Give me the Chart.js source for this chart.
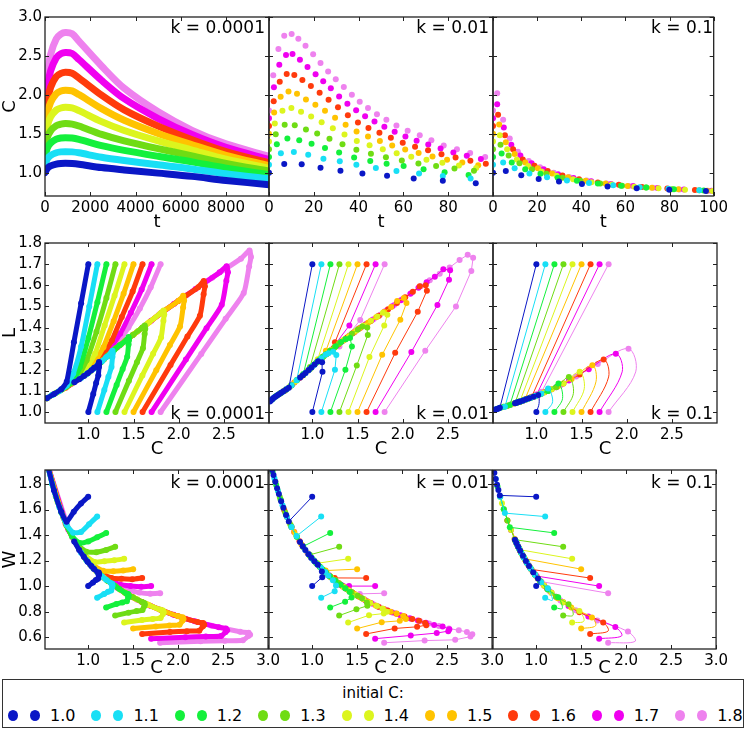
<!DOCTYPE html>
<html>
<head>
<meta charset="utf-8">
<script src="https://cdn.jsdelivr.net/npm/chart.js@4.4.0/dist/chart.umd.min.js"></script>
<style>
body { margin: 0; background: #fff; font-family: "DejaVu Sans", sans-serif; }
#fig { position: relative; width: 747px; height: 747px; overflow: hidden; background: #fff; }
#fig canvas { position: absolute; }
.klab { position: absolute; width: 220px; font-size: 17px; line-height: 20px; text-align: right; color: #000; white-space: nowrap; }
#legend { position: absolute; left: 2px; top: 679px; width: 740px; height: 47px; border: 1px solid #333; }
#legtitle { position: absolute; left: 0; width: 740px; top: 3px; text-align: center; font-size: 15px; line-height: 20px; }
.ldot { position: absolute; width: 10px; height: 11px; border-radius: 50%; }
.ltxt { position: absolute; font-size: 16px; line-height: 20px; }
</style>
</head>
<body>
<div id="fig">
  <div id="legend"><div id="legtitle">initial C:</div></div>
</div>
<script>
// one colour per initial C
var initC = [1.0, 1.1, 1.2, 1.3, 1.4, 1.5, 1.6, 1.7, 1.8];
var colors = ['#0a17c6', '#18dff5', '#14f03c', '#6fdc14', '#dcf51e', '#ffc300', '#ff3a0c', '#f000f0', '#ee82ee'];
var kLabels = ['k = 0.0001', 'k = 0.01', 'k = 0.1'];

// tick values
var tTicks_k4 = [0, 2000, 4000, 6000, 8000];
var tTicks_k2 = [0, 20, 40, 60, 80];
var tTicks_k1 = [0, 20, 40, 60, 80, 100];
var cTicksTop = [1.0, 1.5, 2.0, 2.5, 3.0];
var lTicks = [1.0, 1.1, 1.2, 1.3, 1.4, 1.5, 1.6, 1.7, 1.8];
var wTicks = [0.6, 0.8, 1.0, 1.2, 1.4, 1.6, 1.8];
var cTicksMid = [1.0, 1.5, 2.0, 2.5];
var cTicksBot = [1.0, 1.5, 2.0, 2.5, 3.0];

// ---- k = 0.0001, trajectories starting at L = 1.0 ----
var t_k4 = [0, 100, 250, 500, 700, 900, 1200, 1500, 2500, 3500, 5000, 6500, 8000, 9900];
var C_k4 = [
  [1.0, 1.054, 1.086, 1.11, 1.118, 1.12, 1.118, 1.109, 1.065, 1.035, 0.994, 0.952, 0.90, 0.845],
  [1.1, 1.177, 1.222, 1.256, 1.267, 1.27, 1.267, 1.255, 1.197, 1.155, 1.101, 1.048, 0.985, 0.92],
  [1.2, 1.313, 1.38, 1.43, 1.445, 1.45, 1.445, 1.427, 1.347, 1.286, 1.21, 1.139, 1.058, 0.975],
  [1.3, 1.449, 1.538, 1.604, 1.623, 1.63, 1.624, 1.599, 1.492, 1.409, 1.308, 1.216, 1.119, 1.02],
  [1.4, 1.598, 1.717, 1.805, 1.831, 1.84, 1.832, 1.797, 1.656, 1.542, 1.408, 1.29, 1.173, 1.055],
  [1.5, 1.752, 1.903, 2.015, 2.049, 2.06, 2.05, 2.003, 1.823, 1.674, 1.504, 1.359, 1.223, 1.09],
  [1.6, 1.91, 2.097, 2.235, 2.276, 2.29, 2.278, 2.217, 1.996, 1.807, 1.598, 1.424, 1.272, 1.127],
  [1.7, 2.08, 2.308, 2.477, 2.528, 2.545, 2.531, 2.454, 2.186, 1.95, 1.695, 1.489, 1.324, 1.17],
  [1.8, 2.25, 2.52, 2.72, 2.78, 2.80, 2.784, 2.689, 2.371, 2.084, 1.782, 1.544, 1.369, 1.21]
];
var L_k4 = [
  [1.0, 1.085, 1.137, 1.174, 1.213, 1.228, 1.237, 1.225, 1.209, 1.198, 1.183, 1.171, 1.155, 1.141],
  [1.0, 1.104, 1.167, 1.213, 1.261, 1.278, 1.29, 1.282, 1.259, 1.242, 1.222, 1.203, 1.181, 1.161],
  [1.0, 1.128, 1.204, 1.261, 1.32, 1.341, 1.355, 1.342, 1.316, 1.294, 1.264, 1.236, 1.206, 1.178],
  [1.0, 1.148, 1.236, 1.302, 1.369, 1.394, 1.41, 1.40, 1.364, 1.336, 1.303, 1.266, 1.229, 1.192],
  [1.0, 1.173, 1.276, 1.353, 1.432, 1.461, 1.48, 1.466, 1.419, 1.381, 1.336, 1.296, 1.249, 1.205],
  [1.0, 1.198, 1.317, 1.405, 1.495, 1.528, 1.55, 1.528, 1.474, 1.425, 1.368, 1.32, 1.269, 1.218],
  [1.0, 1.223, 1.357, 1.456, 1.558, 1.595, 1.62, 1.591, 1.526, 1.469, 1.399, 1.341, 1.289, 1.232],
  [1.0, 1.248, 1.397, 1.508, 1.621, 1.662, 1.69, 1.661, 1.582, 1.512, 1.432, 1.363, 1.308, 1.248],
  [1.0, 1.275, 1.441, 1.563, 1.689, 1.734, 1.765, 1.726, 1.636, 1.552, 1.461, 1.381, 1.323, 1.264]
];
var W_k4 = [
  [1.0, 1.029, 1.047, 1.058, 1.085, 1.096, 1.106, 1.105, 1.135, 1.157, 1.19, 1.23, 1.283, 1.35],
  [0.909, 0.938, 0.955, 0.966, 0.995, 1.006, 1.018, 1.022, 1.052, 1.075, 1.11, 1.148, 1.199, 1.262],
  [0.833, 0.859, 0.872, 0.882, 0.913, 0.925, 0.938, 0.94, 0.977, 1.006, 1.045, 1.085, 1.14, 1.208],
  [0.769, 0.792, 0.804, 0.812, 0.843, 0.855, 0.868, 0.876, 0.914, 0.948, 0.996, 1.041, 1.098, 1.169],
  [0.714, 0.734, 0.743, 0.75, 0.782, 0.794, 0.808, 0.816, 0.857, 0.896, 0.949, 1.005, 1.065, 1.142],
  [0.667, 0.684, 0.692, 0.697, 0.73, 0.742, 0.756, 0.763, 0.809, 0.851, 0.91, 0.971, 1.038, 1.117],
  [0.625, 0.64, 0.647, 0.651, 0.685, 0.697, 0.711, 0.718, 0.765, 0.813, 0.875, 0.942, 1.013, 1.093],
  [0.588, 0.60, 0.605, 0.609, 0.641, 0.653, 0.668, 0.677, 0.724, 0.775, 0.845, 0.915, 0.988, 1.067],
  [0.556, 0.567, 0.572, 0.575, 0.608, 0.619, 0.634, 0.642, 0.69, 0.745, 0.82, 0.894, 0.966, 1.045]
];
// k = 0.0001, trajectories starting at L = 1.7
var upC_k4 = [
  [1.0, 0.92, 0.84, 0.76, 0.7, 0.62, 0.54],
  [1.1, 1.01, 0.92, 0.833, 0.76, 0.68, 0.6, 0.54],
  [1.2, 1.1, 1.0, 0.907, 0.82, 0.7, 0.6, 0.54],
  [1.3, 1.2, 1.09, 0.981, 0.88, 0.76, 0.64, 0.54],
  [1.4, 1.29, 1.18, 1.074, 0.96, 0.82, 0.66, 0.54],
  [1.5, 1.39, 1.28, 1.167, 1.05, 0.9, 0.72, 0.54],
  [1.6, 1.49, 1.37, 1.26, 1.13, 0.96, 0.75, 0.54],
  [1.7, 1.59, 1.47, 1.352, 1.2, 1.02, 0.78, 0.54],
  [1.8, 1.69, 1.57, 1.444, 1.28, 1.08, 0.82, 0.54]
];
var upL_k4 = [
  [1.7, 1.515, 1.33, 1.143, 1.108, 1.085, 1.065],
  [1.7, 1.5, 1.31, 1.182, 1.125, 1.1, 1.08, 1.065],
  [1.7, 1.52, 1.35, 1.213, 1.14, 1.105, 1.08, 1.065],
  [1.7, 1.54, 1.38, 1.245, 1.165, 1.12, 1.09, 1.065],
  [1.7, 1.55, 1.41, 1.276, 1.195, 1.14, 1.095, 1.065],
  [1.7, 1.56, 1.43, 1.307, 1.225, 1.16, 1.11, 1.065],
  [1.7, 1.57, 1.45, 1.339, 1.25, 1.175, 1.115, 1.065],
  [1.7, 1.58, 1.47, 1.37, 1.275, 1.195, 1.125, 1.065],
  [1.7, 1.59, 1.49, 1.40, 1.305, 1.22, 1.135, 1.065]
];
var upW_k4 = [
  [1.7, 1.647, 1.583, 1.504, 1.583, 1.75, 1.972],
  [1.545, 1.485, 1.424, 1.419, 1.48, 1.618, 1.8, 1.972],
  [1.417, 1.382, 1.35, 1.337, 1.39, 1.579, 1.8, 1.972],
  [1.308, 1.283, 1.266, 1.269, 1.324, 1.474, 1.703, 1.972],
  [1.214, 1.202, 1.195, 1.188, 1.245, 1.39, 1.659, 1.972],
  [1.133, 1.122, 1.117, 1.12, 1.167, 1.289, 1.542, 1.972],
  [1.063, 1.054, 1.058, 1.063, 1.106, 1.224, 1.487, 1.972],
  [1.0, 0.994, 1.0, 1.013, 1.063, 1.172, 1.442, 1.972],
  [0.944, 0.941, 0.949, 0.97, 1.02, 1.13, 1.384, 1.972]
];

// ---- k = 0.01 ----
var t_k2 = [
  [0, 6.8, 14.6, 23, 31.9, 41.7, 52.7, 64.6, 77.6, 92.3],
  [0, 5.3, 11.1, 17.5, 24.3, 31.6, 39, 47.7, 56.9, 67, 77.6, 90],
  [0, 3.5, 8.2, 13.5, 19, 25, 31.3, 38, 45.2, 52.5, 60.1, 69, 78.4, 89.1],
  [0, 3, 7, 11.5, 16.5, 21.5, 27, 32.8, 39, 45.5, 52.2, 59.3, 66.7, 74.6, 82.8, 91.5],
  [0, 2.6, 6, 10, 14.3, 18.8, 23.5, 28.5, 33.7, 39.2, 44.9, 50.8, 57, 63.5, 70.3, 77.4, 84.8, 92.5],
  [0, 2.3, 5.2, 8.7, 12.5, 16.5, 20.7, 25, 29.5, 34.2, 39.1, 44.2, 49.5, 55, 60.8, 66.8, 73, 79.5, 86.3, 93.4],
  [0, 2.1, 4.8, 7.9, 11.3, 14.9, 18.7, 22.6, 26.6, 30.8, 35.2, 39.7, 44.4, 49.3, 54.4, 59.7, 65.2, 71, 77, 83.3, 89.9, 96.8],
  [0, 2.2, 4.6, 7.6, 10.5, 13.8, 17.2, 20.8, 24.2, 27.6, 31.3, 35, 38.9, 42.9, 47.1, 51.5, 56.1, 60.9, 65.9, 71.1, 76.6, 82.3, 88.3, 94.6],
  [0, 1.9, 4.2, 6.8, 10.1, 13.1, 16.3, 19.7, 23, 26.4, 29.8, 33.4, 37, 40.5, 44.2, 48.2, 52.4, 56.9, 61.9, 67.3, 72.5, 78, 83.9, 89.8, 96.5]
];
var C_k2 = [
  [1.0, 1.112, 1.108, 1.063, 1.025, 0.99, 0.96, 0.924, 0.895, 0.865],
  [1.1, 1.25, 1.265, 1.23, 1.179, 1.145, 1.10, 1.06, 1.02, 0.99, 0.958, 0.924],
  [1.2, 1.366, 1.438, 1.417, 1.37, 1.318, 1.259, 1.196, 1.151, 1.113, 1.085, 1.043, 1.005, 0.97],
  [1.3, 1.492, 1.614, 1.608, 1.553, 1.504, 1.437, 1.366, 1.295, 1.244, 1.198, 1.155, 1.119, 1.085, 1.053, 1.025],
  [1.4, 1.632, 1.796, 1.83, 1.781, 1.72, 1.649, 1.571, 1.489, 1.408, 1.351, 1.301, 1.249, 1.204, 1.165, 1.126, 1.093, 1.061],
  [1.5, 1.773, 1.974, 2.042, 2.013, 1.939, 1.873, 1.794, 1.707, 1.617, 1.528, 1.466, 1.406, 1.35, 1.296, 1.251, 1.209, 1.165, 1.131, 1.096],
  [1.6, 1.917, 2.167, 2.268, 2.255, 2.189, 2.113, 2.028, 1.936, 1.839, 1.737, 1.643, 1.573, 1.513, 1.447, 1.385, 1.334, 1.287, 1.238, 1.194, 1.152, 1.115],
  [1.7, 2.096, 2.385, 2.513, 2.525, 2.45, 2.356, 2.265, 2.175, 2.085, 1.98, 1.885, 1.802, 1.725, 1.658, 1.591, 1.527, 1.464, 1.41, 1.361, 1.309, 1.26, 1.216, 1.176],
  [1.8, 2.25, 2.59, 2.76, 2.78, 2.72, 2.63, 2.52, 2.41, 2.30, 2.20, 2.10, 2.00, 1.91, 1.83, 1.75, 1.68, 1.605, 1.54, 1.48, 1.415, 1.35, 1.30, 1.254, 1.20]
];
var L_k2 = [
  [1.0, 1.19, 1.235, 1.24, 1.225, 1.211, 1.199, 1.185, 1.174, 1.163],
  [1.0, 1.20, 1.27, 1.285, 1.278, 1.271, 1.255, 1.239, 1.223, 1.211, 1.198, 1.185],
  [1.0, 1.20, 1.31, 1.35, 1.345, 1.331, 1.311, 1.289, 1.273, 1.26, 1.249, 1.233, 1.219, 1.204],
  [1.0, 1.22, 1.365, 1.40, 1.405, 1.391, 1.37, 1.346, 1.323, 1.305, 1.289, 1.274, 1.262, 1.249, 1.237, 1.226],
  [1.0, 1.26, 1.41, 1.46, 1.47, 1.452, 1.432, 1.41, 1.386, 1.36, 1.342, 1.325, 1.307, 1.291, 1.278, 1.264, 1.252, 1.24],
  [1.0, 1.271, 1.437, 1.516, 1.54, 1.525, 1.497, 1.473, 1.448, 1.423, 1.398, 1.379, 1.359, 1.341, 1.324, 1.308, 1.293, 1.278, 1.266, 1.254],
  [1.0, 1.28, 1.475, 1.574, 1.60, 1.595, 1.569, 1.543, 1.516, 1.487, 1.456, 1.43, 1.41, 1.394, 1.373, 1.353, 1.336, 1.32, 1.303, 1.288, 1.273, 1.26],
  [1.0, 1.284, 1.507, 1.626, 1.671, 1.676, 1.64, 1.614, 1.588, 1.56, 1.529, 1.501, 1.476, 1.453, 1.434, 1.415, 1.398, 1.378, 1.361, 1.345, 1.328, 1.311, 1.296, 1.282],
  [1.0, 1.29, 1.50, 1.668, 1.73, 1.744, 1.72, 1.684, 1.655, 1.624, 1.595, 1.565, 1.535, 1.508, 1.484, 1.46, 1.44, 1.419, 1.401, 1.384, 1.363, 1.341, 1.325, 1.309, 1.29]
];
var W_k2 = [
  [1.0, 1.07, 1.115, 1.167, 1.195, 1.223, 1.249, 1.282, 1.312, 1.345],
  [0.909, 0.96, 1.004, 1.045, 1.084, 1.11, 1.141, 1.169, 1.199, 1.223, 1.251, 1.282],
  [0.833, 0.878, 0.911, 0.953, 0.982, 1.01, 1.041, 1.078, 1.106, 1.132, 1.151, 1.182, 1.213, 1.241],
  [0.769, 0.818, 0.846, 0.871, 0.905, 0.925, 0.953, 0.985, 1.022, 1.049, 1.076, 1.103, 1.128, 1.151, 1.175, 1.196],
  [0.714, 0.772, 0.785, 0.798, 0.825, 0.844, 0.868, 0.898, 0.931, 0.966, 0.993, 1.018, 1.046, 1.072, 1.097, 1.123, 1.146, 1.169],
  [0.667, 0.717, 0.728, 0.742, 0.765, 0.786, 0.799, 0.821, 0.848, 0.88, 0.915, 0.941, 0.967, 0.993, 1.022, 1.046, 1.069, 1.097, 1.119, 1.144],
  [0.625, 0.668, 0.681, 0.694, 0.71, 0.729, 0.743, 0.761, 0.783, 0.809, 0.838, 0.87, 0.896, 0.921, 0.949, 0.977, 1.001, 1.026, 1.053, 1.079, 1.105, 1.13],
  [0.588, 0.613, 0.632, 0.647, 0.662, 0.684, 0.696, 0.713, 0.73, 0.748, 0.772, 0.796, 0.819, 0.842, 0.865, 0.889, 0.916, 0.941, 0.965, 0.988, 1.015, 1.04, 1.066, 1.09],
  [0.556, 0.573, 0.579, 0.604, 0.622, 0.641, 0.654, 0.668, 0.687, 0.706, 0.725, 0.745, 0.768, 0.79, 0.811, 0.834, 0.857, 0.884, 0.91, 0.935, 0.963, 0.993, 1.019, 1.044, 1.075]
];
var upC_k2 = [
  [1.0, 0.74, 0.71, 0.68, 0.655, 0.63, 0.61, 0.59, 0.57, 0.555, 0.54, 0.53],
  [1.1, 0.826, 0.77, 0.72, 0.67, 0.62, 0.58, 0.55],
  [1.2, 0.9, 0.83, 0.77, 0.71, 0.65, 0.6, 0.56],
  [1.3, 0.974, 0.9, 0.83, 0.76, 0.7, 0.64, 0.59],
  [1.4, 1.06, 0.98, 0.9, 0.82, 0.75, 0.68, 0.62],
  [1.5, 1.15, 1.06, 0.97, 0.88, 0.8, 0.72, 0.65],
  [1.6, 1.25, 1.15, 1.05, 0.95, 0.86, 0.77, 0.69],
  [1.7, 1.41, 1.2, 1.09, 0.99, 0.89, 0.8, 0.72],
  [1.8, 1.53, 1.3, 1.18, 1.07, 0.96, 0.86, 0.77]
];
var upL_k2 = [
  [1.7, 1.115, 1.106, 1.098, 1.091, 1.084, 1.078, 1.072, 1.066, 1.06, 1.055, 1.05],
  [1.7, 1.15, 1.127, 1.11, 1.095, 1.082, 1.07, 1.058],
  [1.7, 1.18, 1.151, 1.127, 1.106, 1.09, 1.076, 1.062],
  [1.7, 1.213, 1.175, 1.151, 1.124, 1.103, 1.087, 1.073],
  [1.7, 1.25, 1.205, 1.175, 1.147, 1.12, 1.098, 1.082],
  [1.7, 1.29, 1.239, 1.203, 1.169, 1.14, 1.11, 1.09],
  [1.7, 1.33, 1.273, 1.235, 1.195, 1.162, 1.127, 1.1],
  [1.7, 1.41, 1.29, 1.251, 1.211, 1.173, 1.14, 1.11],
  [1.7, 1.436, 1.31, 1.283, 1.243, 1.2, 1.162, 1.127]
];
var upW_k2 = [
  [1.7, 1.507, 1.558, 1.615, 1.666, 1.721, 1.767, 1.817, 1.87, 1.91, 1.954, 1.981],
  [1.545, 1.392, 1.464, 1.542, 1.634, 1.745, 1.845, 1.924],
  [1.417, 1.311, 1.387, 1.464, 1.558, 1.677, 1.793, 1.896],
  [1.308, 1.245, 1.306, 1.387, 1.479, 1.576, 1.698, 1.819],
  [1.214, 1.179, 1.23, 1.306, 1.399, 1.493, 1.615, 1.745],
  [1.133, 1.122, 1.169, 1.24, 1.328, 1.425, 1.542, 1.677],
  [1.063, 1.064, 1.107, 1.176, 1.258, 1.351, 1.464, 1.594],
  [1.0, 1.0, 1.075, 1.148, 1.223, 1.318, 1.425, 1.542],
  [0.944, 0.939, 1.008, 1.087, 1.162, 1.25, 1.351, 1.464]
];

// ---- k = 0.1 (second point of each L = 1.0 run is an unmarked bend) ----
var t_k1 = [
  [0, 2.9, 5.8, 12.8, 20.7, 29.9, 40.3, 51.9, 65.1, 79.9, 96.5],
  [0, 2.3, 4.6, 9.8, 16.5, 24.5, 33.5, 43.5, 54.5, 66.5, 79.5, 93.5],
  [0, 1.9, 3.9, 8.5, 14.6, 21.5, 29.3, 38, 47.5, 58, 69.5, 82, 95.5],
  [0, 1.7, 3.4, 7.1, 12, 17.7, 24.2, 31.5, 39.6, 48.6, 58.5, 69.3, 81, 93.5],
  [0, 1.5, 3.1, 6.4, 10.8, 16, 22, 28.8, 36.3, 44.6, 53.8, 64, 75, 87, 99.5],
  [0, 1.4, 2.8, 5.8, 9.8, 14.6, 20.3, 26.8, 34, 42, 51, 61, 72, 84, 97],
  [0, 1.1, 2.3, 5.4, 9.1, 13.5, 18.8, 24.8, 31.5, 39, 47.5, 57, 67.5, 79, 91.5],
  [0, 0.9, 1.9, 4.9, 8.3, 12.4, 17.5, 23, 29.5, 36.5, 44.5, 53.5, 63.5, 74.5, 86.5, 99],
  [0, 0.9, 1.9, 4.6, 7.6, 11.3, 16.2, 21.3, 27.5, 34.5, 42.5, 51.5, 61.5, 72.5, 84.5, 97.5]
];
var C_k1 = [
  [1.0, 1.03, 1.02, 0.967, 0.92, 0.886, 0.853, 0.822, 0.80, 0.78, 0.764],
  [1.1, 1.18, 1.13, 1.055, 0.99, 0.94, 0.9, 0.866, 0.837, 0.812, 0.792, 0.775],
  [1.2, 1.29, 1.245, 1.13, 1.045, 0.985, 0.935, 0.895, 0.86, 0.832, 0.808, 0.788, 0.771],
  [1.3, 1.41, 1.36, 1.22, 1.12, 1.045, 0.985, 0.935, 0.895, 0.86, 0.832, 0.808, 0.788, 0.773],
  [1.4, 1.53, 1.48, 1.30, 1.17, 1.085, 1.015, 0.96, 0.915, 0.878, 0.847, 0.82, 0.799, 0.78, 0.765],
  [1.5, 1.66, 1.62, 1.39, 1.24, 1.13, 1.055, 0.99, 0.94, 0.897, 0.86, 0.83, 0.806, 0.786, 0.768],
  [1.6, 1.80, 1.745, 1.48, 1.30, 1.17, 1.09, 1.02, 0.965, 0.915, 0.875, 0.843, 0.817, 0.796, 0.778],
  [1.7, 1.95, 1.88, 1.58, 1.36, 1.22, 1.12, 1.045, 0.98, 0.93, 0.89, 0.855, 0.827, 0.803, 0.784, 0.767],
  [1.8, 2.10, 2.02, 1.68, 1.44, 1.27, 1.15, 1.07, 1.0, 0.945, 0.9, 0.86, 0.83, 0.805, 0.785, 0.768]
];
var L_k1 = [
  [1.0, 1.04, 1.08, 1.072, 1.065, 1.06, 1.055, 1.05, 1.047, 1.044, 1.042],
  [1.0, 1.049, 1.111, 1.087, 1.076, 1.068, 1.062, 1.057, 1.052, 1.049, 1.046, 1.044],
  [1.0, 1.064, 1.135, 1.1, 1.085, 1.075, 1.067, 1.061, 1.056, 1.051, 1.048, 1.045, 1.043],
  [1.0, 1.088, 1.166, 1.117, 1.099, 1.085, 1.075, 1.067, 1.061, 1.056, 1.051, 1.048, 1.045, 1.043],
  [1.0, 1.11, 1.19, 1.135, 1.108, 1.092, 1.08, 1.071, 1.064, 1.059, 1.054, 1.05, 1.047, 1.044, 1.042],
  [1.0, 1.143, 1.221, 1.156, 1.122, 1.1, 1.087, 1.076, 1.068, 1.062, 1.056, 1.051, 1.048, 1.045, 1.043],
  [1.0, 1.166, 1.248, 1.178, 1.135, 1.108, 1.093, 1.081, 1.072, 1.064, 1.058, 1.053, 1.049, 1.046, 1.044],
  [1.0, 1.19, 1.276, 1.203, 1.149, 1.117, 1.099, 1.085, 1.074, 1.067, 1.06, 1.055, 1.051, 1.047, 1.045, 1.043],
  [1.0, 1.19, 1.30, 1.227, 1.168, 1.128, 1.104, 1.09, 1.077, 1.069, 1.062, 1.056, 1.051, 1.048, 1.045, 1.043]
];
var W_k1 = [
  [1.0, 1.01, 1.059, 1.109, 1.158, 1.196, 1.237, 1.277, 1.309, 1.338, 1.364],
  [0.909, 0.889, 0.983, 1.03, 1.087, 1.136, 1.18, 1.221, 1.257, 1.292, 1.321, 1.347],
  [0.833, 0.825, 0.912, 0.973, 1.038, 1.091, 1.141, 1.185, 1.228, 1.263, 1.297, 1.326, 1.353],
  [0.769, 0.772, 0.857, 0.916, 0.981, 1.038, 1.091, 1.141, 1.185, 1.228, 1.263, 1.297, 1.326, 1.349],
  [0.714, 0.725, 0.804, 0.873, 0.947, 1.006, 1.064, 1.116, 1.163, 1.206, 1.244, 1.28, 1.31, 1.338, 1.362],
  [0.667, 0.689, 0.754, 0.832, 0.905, 0.973, 1.03, 1.087, 1.136, 1.184, 1.228, 1.266, 1.3, 1.33, 1.358],
  [0.625, 0.648, 0.715, 0.796, 0.873, 0.947, 1.003, 1.06, 1.111, 1.163, 1.209, 1.249, 1.284, 1.314, 1.342],
  [0.588, 0.61, 0.679, 0.761, 0.845, 0.916, 0.981, 1.038, 1.096, 1.147, 1.191, 1.234, 1.271, 1.304, 1.333, 1.36],
  [0.556, 0.567, 0.644, 0.73, 0.811, 0.888, 0.96, 1.019, 1.077, 1.131, 1.18, 1.228, 1.266, 1.302, 1.331, 1.358]
];
var upC_k1 = [
  [1.0, 0.596, 0.58, 0.565, 0.55, 0.535, 0.52, 0.505],
  [1.1, 0.652, 0.6, 0.55],
  [1.2, 0.707, 0.64, 0.57],
  [1.3, 0.763, 0.68, 0.6],
  [1.4, 0.819, 0.72, 0.62],
  [1.5, 0.874, 0.76, 0.64],
  [1.6, 0.948, 0.82, 0.68],
  [1.7, 1.004, 0.86, 0.72],
  [1.8, 1.059, 0.9, 0.76]
];
var upL_k1 = [
  [1.7, 1.02, 1.017, 1.014, 1.012, 1.01, 1.008, 1.006],
  [1.7, 1.025, 1.02, 1.012],
  [1.7, 1.033, 1.025, 1.015],
  [1.7, 1.041, 1.03, 1.02],
  [1.7, 1.052, 1.036, 1.023],
  [1.7, 1.061, 1.041, 1.025],
  [1.7, 1.072, 1.05, 1.03],
  [1.7, 1.083, 1.056, 1.036],
  [1.7, 1.096, 1.062, 1.041]
];
var upW_k1 = [
  [1.7, 1.711, 1.753, 1.795, 1.84, 1.888, 1.938, 1.992],
  [1.545, 1.572, 1.7, 1.84],
  [1.417, 1.461, 1.602, 1.781],
  [1.308, 1.364, 1.515, 1.70],
  [1.214, 1.285, 1.439, 1.65],
  [1.133, 1.214, 1.37, 1.602],
  [1.063, 1.131, 1.28, 1.515],
  [1.0, 1.079, 1.228, 1.439],
  [0.944, 1.035, 1.18, 1.37]
];

Chart.defaults.font.family = "'DejaVu Sans', sans-serif";
Chart.defaults.font.size = 15;
Chart.defaults.color = '#000';

var fig = document.getElementById('fig');
var PL = [45, 269, 493], PT = [15, 241, 468], PH = [181, 182, 181], XH = [37, 37, 30];
var PW = 224;

// frame with inward ticks on all four sides, matplotlib style
var framePlugin = {
  id: 'frame',
  afterDatasetsDraw: function (chart) {
    var ctx = chart.ctx, a = chart.chartArea, xs = chart.scales.x, ys = chart.scales.y;
    ctx.save();
    ctx.strokeStyle = '#222';
    ctx.lineWidth = 1;
    ctx.beginPath();
    xs.ticks.forEach(function (t) {
      var px = Math.round(xs.getPixelForValue(t.value)) + 0.5;
      ctx.moveTo(px, a.bottom); ctx.lineTo(px, a.bottom - 4);
      ctx.moveTo(px, a.top); ctx.lineTo(px, a.top + 4);
    });
    ys.ticks.forEach(function (t) {
      var py = Math.round(ys.getPixelForValue(t.value)) + 0.5;
      ctx.moveTo(a.left, py); ctx.lineTo(a.left + 4, py);
      ctx.moveTo(a.right, py); ctx.lineTo(a.right - 4, py);
    });
    ctx.stroke();
    ctx.lineWidth = 1.3;
    ctx.strokeRect(a.left, a.top, a.right - a.left, a.bottom - a.top);
    ctx.restore();
  }
};

function pts(xs, ys) {
  return xs.map(function (v, j) { return { x: v, y: ys[j] }; });
}

function series(xs, ys, i, opts) {
  var d = {
    data: pts(xs, ys),
    borderColor: colors[i],
    backgroundColor: colors[i],
    pointBackgroundColor: colors[i],
    pointBorderWidth: 0,
    showLine: false,
    pointRadius: 3,
    borderWidth: 1,
    tension: 0,
    borderJoinStyle: 'round',
    borderCapStyle: 'round'
  };
  for (var k in opts) d[k] = opts[k];
  return d;
}

function fmt1(v) { return Number(v).toFixed(1); }
function fmt0(v) { return String(v); }

function panel(col, row, datasets, xr, xt, xf, xTitle, yr, yt, yTitle) {
  var cv = document.createElement('canvas');
  var w = 45 + PW + 14, h = 10 + PH[row] + XH[row];
  cv.width = w; cv.height = h;
  cv.style.left = (PL[col] - 45) + 'px';
  cv.style.top = (PT[row] - 10) + 'px';
  fig.appendChild(cv);
  new Chart(cv, {
    type: 'scatter',
    data: { datasets: datasets },
    options: {
      responsive: false,
      animation: false,
      events: [],
      devicePixelRatio: 1,
      layout: { padding: { top: 10, right: 14, left: 0, bottom: 0 } },
      plugins: { legend: { display: false }, tooltip: { enabled: false } },
      scales: {
        x: {
          type: 'linear', min: xr[0], max: xr[1],
          grid: { display: false, drawTicks: false }, border: { display: false },
          afterBuildTicks: function (s) { s.ticks = xt.map(function (v) { return { value: v }; }); },
          afterFit: function (s) { s.height = XH[row]; },
          ticks: { padding: 3, autoSkip: false, maxRotation: 0, callback: xf },
          title: { display: true, text: xTitle, font: { size: 18 }, padding: 0 }
        },
        y: {
          type: 'linear', min: yr[0], max: yr[1],
          grid: { display: false, drawTicks: false }, border: { display: false },
          afterBuildTicks: function (s) { s.ticks = yt.map(function (v) { return { value: v }; }); },
          afterFit: function (s) { s.width = 45; },
          ticks: { padding: 3, autoSkip: false, callback: col === 0 ? fmt1 : function () { return ''; } },
          title: { display: col === 0, text: yTitle, font: { size: 18 }, padding: 0 }
        }
      }
    },
    plugins: [framePlugin]
  });
  var lab = document.createElement('div');
  lab.className = 'klab';
  lab.textContent = kLabels[col];
  lab.style.left = (PL[col] + PW - 4 - 220) + 'px';
  var top = row === 0 ? PT[row] + 2 : (row === 1 ? PT[row] + PH[row] - 20 : PT[row] + 4);
  lab.style.top = top + 'px';
  fig.appendChild(lab);
}

var cRange = [0.52, 3.0];
var i;

// first row: C against t
var s0 = [], s1 = [], s2 = [];
for (i = 0; i < 9; i++) {
  s0.push(series(t_k4, C_k4[i], i, { showLine: true, borderWidth: 7, pointRadius: 0, tension: 0.3 }));
  s1.push(series(t_k2[i], C_k2[i], i, {}));
  s2.push(series(t_k1[i], C_k1[i], i, { pointRadius: t_k1[i].map(function (v, j) { return j === 1 ? 0 : 3; }) }));
}
panel(0, 0, s0, [0, 9900], tTicks_k4, fmt0, 't', [0.7, 3.0], cTicksTop, 'C');
panel(1, 0, s1, [0, 100], tTicks_k2, fmt0, 't', [0.7, 3.0], cTicksTop, 'C');
panel(2, 0, s2, [0, 100], tTicks_k1, fmt0, 't', [0.7, 3.0], cTicksTop, 'C');

// second and third rows: L and W against C
function phaseRow(row, Y4, upY4, Y2, upY2, Y1, upY1, yr, yt, yTitle, xt) {
  var a = [], b = [], c = [];
  for (var i = 0; i < 9; i++) {
    a.push(series(C_k4[i], Y4[i], i, { showLine: true, borderWidth: 5, pointRadius: 3, tension: 0.2 }));
    a.push(series(upC_k4[i], upY4[i], i, { showLine: true, borderWidth: 5, pointRadius: 3, tension: 0.15 }));
    b.push(series(C_k2[i], Y2[i], i, { showLine: true }));
    b.push(series(upC_k2[i], upY2[i], i, { showLine: true }));
    c.push(series(C_k1[i], Y1[i], i, { showLine: true, tension: 0.35,
      pointRadius: C_k1[i].map(function (v, j) { return j === 1 ? 0 : 3; }) }));
    c.push(series(upC_k1[i], upY1[i], i, { showLine: true }));
  }
  panel(0, row, a, cRange, xt, fmt1, 'C', yr, yt, yTitle);
  panel(1, row, b, cRange, xt, fmt1, 'C', yr, yt, yTitle);
  panel(2, row, c, cRange, xt, fmt1, 'C', yr, yt, yTitle);
}
phaseRow(1, L_k4, upL_k4, L_k2, upL_k2, L_k1, upL_k1, [0.948, 1.8], lTicks, 'L', cTicksMid);
phaseRow(2, W_k4, upW_k4, W_k2, upW_k2, W_k1, upW_k1, [0.507, 1.91], wTicks, 'W', cTicksBot);

// legend row
initC.forEach(function (v, i) {
  var x0 = 83.4 * i;
  [13, 35].forEach(function (dx) {
    var d = document.createElement('div');
    d.className = 'ldot';
    d.style.background = colors[i];
    d.style.left = (x0 + dx - 5) + 'px';
    d.style.top = '710px';
    fig.appendChild(d);
  });
  var t = document.createElement('div');
  t.className = 'ltxt';
  t.textContent = v.toFixed(1);
  t.style.left = (x0 + 50) + 'px';
  t.style.top = '706px';
  fig.appendChild(t);
});
</script>
</body>
</html>
